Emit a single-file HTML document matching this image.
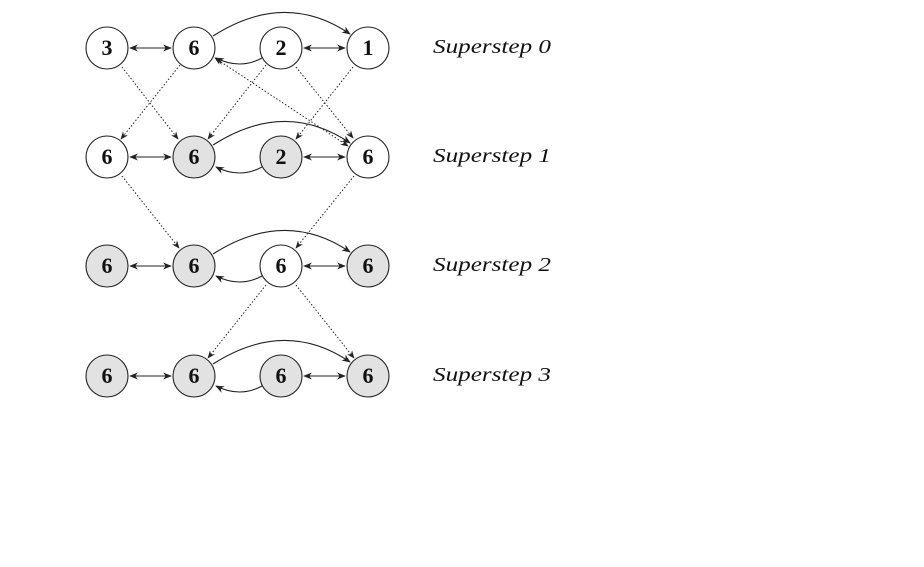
<!DOCTYPE html>
<html><head><style>body{margin:0;background:#fff}</style></head><body>
<svg width="924" height="562" xmlns="http://www.w3.org/2000/svg">
<defs><marker id="a" viewBox="0 0 10 10" refX="9" refY="5" markerWidth="8" markerHeight="8" orient="auto-start-reverse"><path d="M0,1 L10,5 L0,9 L3,5 z" fill="#222"/></marker></defs>
<g stroke="#222" fill="none" stroke-width="1.1">
<g id="r0">
<line x1="130" y1="48" x2="171" y2="48" marker-start="url(#a)" marker-end="url(#a)"/>
<line x1="304" y1="48" x2="345" y2="48" marker-start="url(#a)" marker-end="url(#a)"/>
<path d="M213,36 Q285,-10 350,34" marker-end="url(#a)"/>
<path d="M262,58 Q240,70 216,58" marker-end="url(#a)"/>
</g>
<g transform="translate(0,109)"><use href="#r0"/></g>
<g transform="translate(0,218)"><use href="#r0"/></g>
<g transform="translate(0,328)"><use href="#r0"/></g>
<g stroke-dasharray="1.5,2" stroke-width="1">
<line x1="122" y1="67" x2="178" y2="139" marker-end="url(#a)"/>
<line x1="180" y1="65" x2="121" y2="139" marker-end="url(#a)"/>
<line x1="266" y1="65" x2="208" y2="139" marker-end="url(#a)"/>
<line x1="296" y1="67" x2="353" y2="138" marker-end="url(#a)"/>
<line x1="353" y1="67" x2="296" y2="139" marker-end="url(#a)"/>
<line x1="215" y1="58" x2="348" y2="146" marker-start="url(#a)" marker-end="url(#a)"/>
<line x1="122" y1="176" x2="179" y2="248" marker-end="url(#a)"/>
<line x1="354" y1="176" x2="296" y2="248" marker-end="url(#a)"/>
<line x1="266" y1="285" x2="208" y2="358" marker-end="url(#a)"/>
<line x1="296" y1="285" x2="354" y2="358" marker-end="url(#a)"/>
</g>
</g>
<g stroke="#222" stroke-width="1.1" font-family="Liberation Serif, serif" font-weight="bold" font-size="22" text-anchor="middle">
<circle cx="107" cy="48" r="21" fill="#fff"/><circle cx="194" cy="48" r="21" fill="#fff"/><circle cx="281" cy="48" r="21" fill="#fff"/><circle cx="368" cy="48" r="21" fill="#fff"/>
<circle cx="107" cy="157" r="21" fill="#fff"/><circle cx="194" cy="157" r="21" fill="#e2e2e2"/><circle cx="281" cy="157" r="21" fill="#e2e2e2"/><circle cx="368" cy="157" r="21" fill="#fff"/>
<circle cx="107" cy="266" r="21" fill="#e2e2e2"/><circle cx="194" cy="266" r="21" fill="#e2e2e2"/><circle cx="281" cy="266" r="21" fill="#fff"/><circle cx="368" cy="266" r="21" fill="#e2e2e2"/>
<circle cx="107" cy="376" r="21" fill="#e2e2e2"/><circle cx="194" cy="376" r="21" fill="#e2e2e2"/><circle cx="281" cy="376" r="21" fill="#e2e2e2"/><circle cx="368" cy="376" r="21" fill="#e2e2e2"/>
<g stroke="none" fill="#111">
<text x="107" y="55">3</text><text x="194" y="55">6</text><text x="281" y="55">2</text><text x="368" y="55">1</text>
<text x="107" y="164">6</text><text x="194" y="164">6</text><text x="281" y="164">2</text><text x="368" y="164">6</text>
<text x="107" y="273">6</text><text x="194" y="273">6</text><text x="281" y="273">6</text><text x="368" y="273">6</text>
<text x="107" y="383">6</text><text x="194" y="383">6</text><text x="281" y="383">6</text><text x="368" y="383">6</text>
</g></g>
<g font-family="Liberation Serif, serif" font-style="italic" font-size="20" fill="#111">
<text x="433" y="53" textLength="118" lengthAdjust="spacingAndGlyphs">Superstep 0</text>
<text x="433" y="162" textLength="118" lengthAdjust="spacingAndGlyphs">Superstep 1</text>
<text x="433" y="271" textLength="118" lengthAdjust="spacingAndGlyphs">Superstep 2</text>
<text x="433" y="381" textLength="118" lengthAdjust="spacingAndGlyphs">Superstep 3</text>
</g>
</svg>
</body></html>
